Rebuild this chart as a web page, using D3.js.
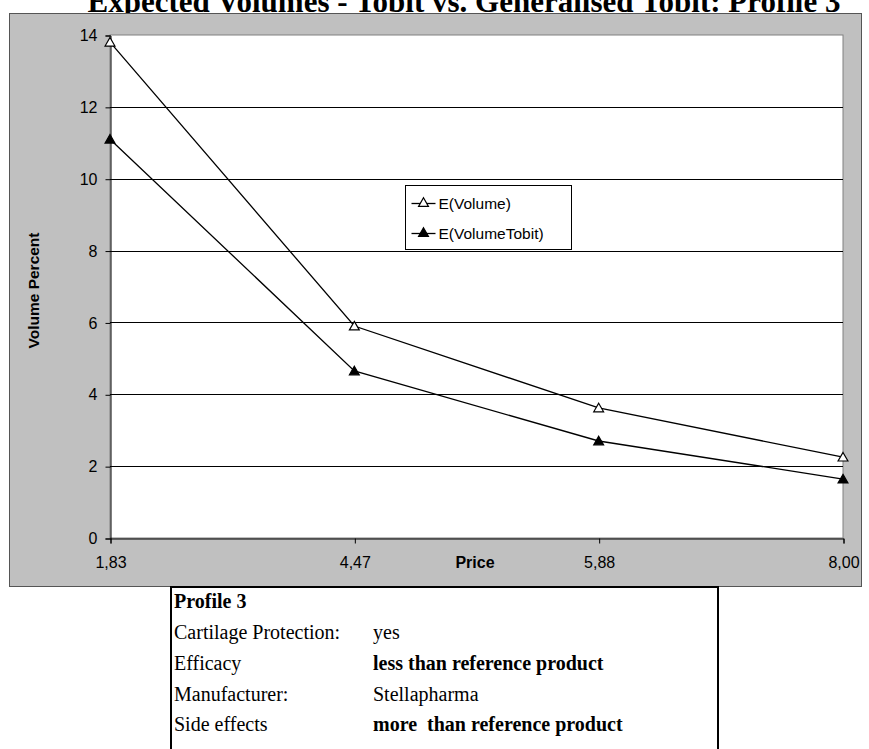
<!DOCTYPE html>
<html>
<head>
<meta charset="utf-8">
<script src="https://cdn.jsdelivr.net/npm/d3@7/dist/d3.min.js"></script>
<style>
  html, body { margin: 0; padding: 0; background: #fff; }
  svg { display: block; }
</style>
</head>
<body>
<svg id="chart" width="869" height="749"></svg>
<script>
// Price points (categories on the x axis)
const prices = ["1,83", "4,47", "5,88", "8,00"];
// Expected volumes, generalised Tobit
const volumeGen = [13.8, 5.9, 3.62, 2.25];
// Expected volumes, Tobit
const volumeTobit = [11.1, 4.65, 2.7, 1.64];
// Y axis ticks
const yTicks = [0, 2, 4, 6, 8, 10, 12, 14];
// Series names
const seriesNames = ["E(Volume)", "E(VolumeTobit)"];
// Profile description rows
const profileLabels = ["Cartilage Protection:", "Efficacy", "Manufacturer:", "Side effects"];
const profileValues = ["yes", "less than reference product", "Stellapharma", "more  than reference product"];
const profileBold = [false, true, false, true];

const svg = d3.select("#chart");
const sans = "Arial, 'Liberation Sans', sans-serif";
const serif = "'Times New Roman', 'Liberation Serif', serif";

// Title (sits partly above the visible area)
svg.append("text")
  .attr("x", 464).attr("y", 12)
  .attr("text-anchor", "middle")
  .attr("font-family", serif).attr("font-weight", "bold")
  .attr("font-size", 31)
  .text("Expected Volumes - Tobit vs. Generalised Tobit: Profile 3");

// Chart area background
svg.append("rect")
  .attr("x", 9.5).attr("y", 13.5).attr("width", 852).attr("height", 573)
  .attr("fill", "#c0c0c0").attr("stroke", "#555").attr("stroke-width", 1);

const plot = { left: 110, right: 843, top: 35, bottom: 538 };

const x = d3.scalePoint().domain(prices).range([plot.left, plot.right]);
const y = d3.scaleLinear().domain([0, 14]).range([plot.bottom, plot.top]);

// Plot area
svg.append("rect")
  .attr("x", plot.left).attr("y", plot.top)
  .attr("width", plot.right - plot.left).attr("height", plot.bottom - plot.top)
  .attr("fill", "#fff").attr("stroke", "#808080").attr("stroke-width", 1);

// Horizontal gridlines
svg.append("g").selectAll("line")
  .data(yTicks.filter(t => t > 0 && t < 14))
  .join("line")
  .attr("x1", plot.left).attr("x2", plot.right)
  .attr("y1", d => Math.round(y(d)) + 0.5).attr("y2", d => Math.round(y(d)) + 0.5)
  .attr("stroke", "#000").attr("stroke-width", 1);

// Y axis
const yAxis = svg.append("g")
  .attr("transform", `translate(${plot.left + 0.5},0.5)`)
  .call(d3.axisLeft(y).tickValues(yTicks).tickSize(5).tickPadding(8).tickFormat(d3.format("d")));
yAxis.select(".domain").attr("stroke", "#000");
yAxis.selectAll(".tick line").attr("stroke", "#000");
yAxis.selectAll("text").attr("font-family", sans).attr("font-size", 16).attr("fill", "#000");

// X axis
const xAxis = svg.append("g")
  .attr("transform", `translate(0.5,${plot.bottom + 0.5})`)
  .call(d3.axisBottom(x).tickSize(5).tickPadding(13));
xAxis.select(".domain").attr("stroke", "#000");
xAxis.selectAll(".tick line").attr("stroke", "#000");
xAxis.selectAll("text").attr("font-family", sans).attr("font-size", 16).attr("fill", "#000");

// Axis titles
svg.append("text")
  .attr("transform", `translate(39,${(plot.top + plot.bottom) / 2 + 4}) rotate(-90)`)
  .attr("text-anchor", "middle")
  .attr("font-family", sans).attr("font-weight", "bold").attr("font-size", 15.5)
  .text("Volume Percent");
svg.append("text")
  .attr("x", 475).attr("y", 568)
  .attr("text-anchor", "middle")
  .attr("font-family", sans).attr("font-weight", "bold").attr("font-size", 16)
  .text("Price");

// Series lines and markers
const tri = d3.symbol().type(d3.symbolTriangle).size(42);
const series = [
  { name: seriesNames[0], values: volumeGen, fill: "#fff" },
  { name: seriesNames[1], values: volumeTobit, fill: "#000" }
];
const line = d3.line().x((d, i) => x(prices[i])).y(d => y(d));

series.forEach(s => {
  svg.append("path")
    .attr("d", line(s.values))
    .attr("fill", "none").attr("stroke", "#000").attr("stroke-width", 1.3);
  svg.append("g").selectAll("path")
    .data(s.values)
    .join("path")
    .attr("d", tri)
    .attr("transform", (d, i) => `translate(${x(prices[i])},${y(d) + 1})`)
    .attr("fill", s.fill).attr("stroke", "#000").attr("stroke-width", 1.2);
});

// Legend
const lg = svg.append("g").attr("transform", "translate(405.5,185.5)");
lg.append("rect").attr("width", 166).attr("height", 64)
  .attr("fill", "#fff").attr("stroke", "#000").attr("stroke-width", 1);
series.forEach((s, i) => {
  const ly = 18 + i * 30;
  lg.append("line").attr("x1", 6).attr("x2", 30).attr("y1", ly).attr("y2", ly)
    .attr("stroke", "#000").attr("stroke-width", 1.3);
  lg.append("path").attr("d", tri).attr("transform", `translate(18,${ly})`)
    .attr("fill", s.fill).attr("stroke", "#000").attr("stroke-width", 1.2);
  lg.append("text").attr("x", 33).attr("y", ly + 5.5)
    .attr("font-family", sans).attr("font-size", 15.5).text(s.name);
});

// Profile table
const tb = svg.append("g");
tb.append("rect").attr("x", 171).attr("y", 587).attr("width", 547).attr("height", 170)
  .attr("fill", "#fff").attr("stroke", "#000").attr("stroke-width", 2);
tb.append("text").attr("x", 174).attr("y", 608)
  .attr("font-family", serif).attr("font-weight", "bold").attr("font-size", 20)
  .text("Profile 3");
profileLabels.forEach((lab, i) => {
  const ty = 639 + i * 30.8;
  tb.append("text").attr("x", 174).attr("y", ty)
    .attr("font-family", serif).attr("font-size", 20).text(lab);
  tb.append("text").attr("x", 373).attr("y", ty)
    .attr("font-family", serif).attr("font-size", 20)
    .attr("font-weight", profileBold[i] ? "bold" : "normal")
    .attr("xml:space", "preserve").style("white-space", "pre")
    .text(profileValues[i]);
});
</script>
</body>
</html>
